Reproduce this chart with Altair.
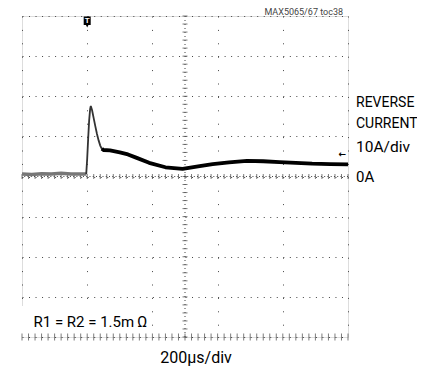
import altair as alt
import pandas as pd

# ---- data (time in µs, current in A) ----
base_t = [0, 60, 120, 180, 240, 300, 360, 394]
base_i = [0.6, 0.5, 0.7, 0.6, 0.8, 0.6, 0.6, 0.6]

spike_t = [394, 400, 406, 412, 418, 422, 430, 440, 450, 460, 470, 480, 490, 500]
spike_i = [0.6, 4.5, 9.5, 14.0, 16.8, 17.6, 16.5, 14.5, 12.5, 10.6, 9.0, 7.7, 6.9, 6.6]

decay_t = [490, 500, 540, 600, 650, 700, 780, 880, 985, 1090, 1170, 1270, 1380, 1480, 1580, 1680, 1780, 1890, 2000]
decay_i = [6.9, 6.6, 6.5, 6.0, 5.5, 4.7, 3.4, 2.3, 1.9, 2.6, 3.1, 3.5, 3.9, 3.8, 3.6, 3.4, 3.2, 3.1, 3.0]

x_major = [0, 200, 400, 600, 800, 1000, 1200, 1400, 1600, 1800, 2000]
y_major = [-40, -30, -20, -10, 0, 10, 20, 30, 40]
x_minor = [40 * k for k in range(51)]
y_minor = [-40 + 2 * k for k in range(41)]

label_lines = ["REVERSE", "CURRENT", "10A/div"]
zero_label = "0A"
time_label = "200\u00b5s/div"
res_label = "R1 = R2 = 1.5m\u2009\u03a9"
fig_label = "MAX5065/67 toc38"
trigger_t = [400]

FONT = "Roboto, Liberation Sans, Arial, sans-serif"
W, H = 326, 321

xs = alt.Scale(domain=[0, 2000], nice=False, zero=False)
ys = alt.Scale(domain=[-40, 40], nice=False, zero=False)

xax = alt.Axis(values=x_major, grid=True, labels=False, ticks=False, domain=False,
               title=None, gridDash=[1, 12.4], gridColor="#444", gridWidth=1)
yax = alt.Axis(values=y_major, grid=True, labels=False, ticks=False, domain=False,
               title=None, gridDash=[1, 5.52], gridColor="#444", gridWidth=1)

base_df = pd.DataFrame({"t": base_t, "i": base_i})
spike_df = pd.DataFrame({"t": spike_t, "i": spike_i})
decay_df = pd.DataFrame({"t": decay_t, "i": decay_i})
one = pd.DataFrame({"a": [0]})

grid = alt.Chart(pd.DataFrame({"t": [0], "i": [0]})).mark_point(opacity=0).encode(
    x=alt.X("t:Q", scale=xs, axis=xax),
    y=alt.Y("i:Q", scale=ys, axis=yax),
)

white_box = alt.Chart(one).mark_rect(color="white").encode(
    x=alt.value(0), x2=alt.value(127), y=alt.value(290), y2=alt.value(H)
)

hcenter = alt.Chart(pd.DataFrame({"i": [0]})).mark_rule(
    color="#444", strokeDash=[1, 2.26], strokeWidth=1
).encode(y=alt.Y("i:Q", scale=ys))
vcenter = alt.Chart(pd.DataFrame({"t": [1000]})).mark_rule(
    color="#444", strokeDash=[1, 3.0], strokeWidth=1
).encode(x=alt.X("t:Q", scale=xs))

hticks = alt.Chart(pd.DataFrame({"t": x_minor, "i": [0] * len(x_minor)})).mark_tick(
    color="#444", size=5, thickness=1, orient="vertical"
).encode(x=alt.X("t:Q", scale=xs), y=alt.Y("i:Q", scale=ys))
vticks = alt.Chart(pd.DataFrame({"t": [1000] * len(y_minor), "i": y_minor})).mark_tick(
    color="#444", size=5, thickness=1, orient="horizontal"
).encode(x=alt.X("t:Q", scale=xs), y=alt.Y("i:Q", scale=ys))
bticks = alt.Chart(pd.DataFrame({"t": x_minor, "i": [-40] * len(x_minor)})).mark_tick(
    color="#444", size=7, thickness=1, orient="vertical"
).encode(x=alt.X("t:Q", scale=xs), y=alt.Y("i:Q", scale=ys))

base_line = alt.Chart(base_df).mark_line(color="#777", strokeWidth=3.5).encode(
    x=alt.X("t:Q", scale=xs), y=alt.Y("i:Q", scale=ys))
spike_line = alt.Chart(spike_df).mark_line(color="#333", strokeWidth=1.8).encode(
    x=alt.X("t:Q", scale=xs), y=alt.Y("i:Q", scale=ys))
decay_line = alt.Chart(decay_df).mark_line(color="black", strokeWidth=3.8, strokeJoin="round").encode(
    x=alt.X("t:Q", scale=xs), y=alt.Y("i:Q", scale=ys))

trig_shape = "M-1,-1.4L1,-1.4L1,1L0.35,1L0,1.7L-0.35,1L-1,1Z"
trig = alt.Chart(pd.DataFrame({"t": trigger_t})).mark_point(
    shape=trig_shape, filled=True, color="black", size=49, opacity=1
).encode(x=alt.X("t:Q", scale=xs), y=alt.value(5.5))
trig_txt = alt.Chart(pd.DataFrame({"t": trigger_t})).mark_text(
    text="T", color="white", fontSize=8, fontWeight="bold", font=FONT, baseline="middle"
).encode(x=alt.X("t:Q", scale=xs), y=alt.value(4.5))

ch_marker = alt.Chart(one).mark_text(
    text="\u2190", fontSize=9, fontWeight="bold", color="black", align="right", baseline="middle",
    font="DejaVu Sans"
).encode(x=alt.value(W - 2), y=alt.value(138))


def label(txt, x, y, size, align="left", color="black", baseline="middle"):
    return alt.Chart(one).mark_text(
        text=txt, align=align, baseline=baseline, fontSize=size, font=FONT, color=color
    ).encode(x=alt.value(x), y=alt.value(y))


lab1 = label(label_lines[0], W + 8, 87, 14)
lab2 = label(label_lines[1], W + 8, 107.5, 14)
lab3 = label(label_lines[2], W + 8, 131, 15.5)
zero_txt = label(zero_label, W + 8, 161, 15)
time_txt = label(time_label, 174, 342, 16, align="center")
res_txt = label(res_label, 11.5, 305.5, 15)
fig_txt = label(fig_label, 321, -1, 9, align="right", color="#444", baseline="alphabetic")

chart = alt.layer(
    grid, white_box, hcenter, vcenter, hticks, vticks, bticks,
    base_line, spike_line, decay_line, trig, trig_txt, ch_marker,
    lab1, lab2, lab3, zero_txt, time_txt, res_txt, fig_txt,
).properties(
    width=W, height=H,
    autosize=alt.AutoSizeParams(type="none"),
    padding={"left": 14, "top": 8, "right": 69, "bottom": 30},
).configure_view(stroke="black", strokeWidth=3).configure(background="white")

chart.save("out.html", embed_options={"renderer": "svg", "actions": False})
